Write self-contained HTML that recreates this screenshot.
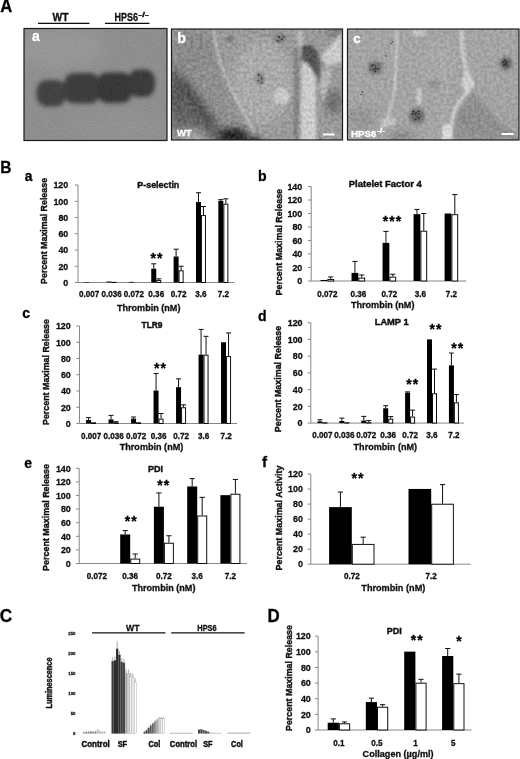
<!DOCTYPE html>
<html><head><meta charset="utf-8"><title>Figure</title>
<style>html,body{margin:0;padding:0;background:#fff}svg{display:block}</style>
</head><body>
<svg width="520" height="759" viewBox="0 0 520 759" font-family="Liberation Sans, sans-serif" font-weight="bold">
<defs>
<filter id="b1" x="-20%" y="-20%" width="140%" height="140%"><feGaussianBlur stdDeviation="1"/></filter>
<filter id="b2" x="-20%" y="-20%" width="140%" height="140%"><feGaussianBlur stdDeviation="2"/></filter>
<filter id="b3" x="-20%" y="-20%" width="140%" height="140%"><feGaussianBlur stdDeviation="3.2"/></filter>
<filter id="b5" x="-30%" y="-30%" width="160%" height="160%"><feGaussianBlur stdDeviation="5"/></filter>
<filter id="b8" x="-30%" y="-30%" width="160%" height="160%"><feGaussianBlur stdDeviation="8"/></filter>
<filter id="soft" x="-5%" y="-5%" width="110%" height="110%"><feGaussianBlur stdDeviation="0.45"/></filter>
<filter id="grain" x="0" y="0" width="100%" height="100%">
 <feTurbulence type="fractalNoise" baseFrequency="0.55" numOctaves="2" seed="3" result="n"/>
 <feColorMatrix in="n" type="matrix" values="0 0 0 0 0.5  0 0 0 0 0.5  0 0 0 0 0.5  0.9 0 0 0 -0.25"/>
</filter>
<filter id="b15" x="-20%" y="-20%" width="140%" height="140%"><feGaussianBlur stdDeviation="1.4"/></filter>
<filter id="b05" x="-20%" y="-20%" width="140%" height="140%"><feGaussianBlur stdDeviation="0.5"/></filter>
<filter id="texA" x="0" y="0" width="100%" height="100%" color-interpolation-filters="sRGB">
 <feTurbulence type="fractalNoise" baseFrequency="0.7" numOctaves="2" seed="5" result="n"/>
 <feColorMatrix in="n" type="matrix" values="1 0 0 0 0  1 0 0 0 0  1 0 0 0 0  0 0 0 0 1" result="g"/>
 <feComposite in="SourceGraphic" in2="g" operator="arithmetic" k1="0" k2="1" k3="0.10" k4="-0.05"/>
</filter>
<filter id="texB" x="0" y="0" width="100%" height="100%" color-interpolation-filters="sRGB">
 <feTurbulence type="fractalNoise" baseFrequency="0.32" numOctaves="3" seed="11" result="n"/>
 <feColorMatrix in="n" type="matrix" values="1 0 0 0 0  1 0 0 0 0  1 0 0 0 0  0 0 0 0 1" result="g"/>
 <feComposite in="SourceGraphic" in2="g" operator="arithmetic" k1="0" k2="1" k3="0.24" k4="-0.12" result="m"/>
 <feGaussianBlur in="m" stdDeviation="0.45"/>
</filter>
<filter id="texC" x="0" y="0" width="100%" height="100%" color-interpolation-filters="sRGB">
 <feTurbulence type="fractalNoise" baseFrequency="0.32" numOctaves="3" seed="23" result="n"/>
 <feColorMatrix in="n" type="matrix" values="1 0 0 0 0  1 0 0 0 0  1 0 0 0 0  0 0 0 0 1" result="g"/>
 <feComposite in="SourceGraphic" in2="g" operator="arithmetic" k1="0" k2="1" k3="0.20" k4="-0.10" result="m"/>
 <feGaussianBlur in="m" stdDeviation="0.45"/>
</filter>
<clipPath id="ca"><rect x="24" y="28.5" width="143" height="112"/></clipPath>
<clipPath id="cb"><rect x="171.5" y="29" width="171" height="111"/></clipPath>
<clipPath id="cc"><rect x="347.5" y="29" width="171.5" height="111"/></clipPath>
</defs>
<rect width="520" height="759" fill="#fff"/>
<g filter="url(#soft)">
<text x="0.30" y="12.10" font-size="18" text-anchor="start" fill="#000" stroke="#000" stroke-width="0.3" textLength="12.0" lengthAdjust="spacingAndGlyphs" >A</text>
<text x="0.30" y="173.20" font-size="17" text-anchor="start" fill="#000" stroke="#000" stroke-width="0.3" textLength="11.2" lengthAdjust="spacingAndGlyphs" >B</text>
<text x="-0.30" y="621.60" font-size="18.3" text-anchor="start" fill="#000" stroke="#000" stroke-width="0.3" textLength="12.4" lengthAdjust="spacingAndGlyphs" >C</text>
<text x="267.60" y="621.90" font-size="18.3" text-anchor="start" fill="#000" stroke="#000" stroke-width="0.3" textLength="12.2" lengthAdjust="spacingAndGlyphs" >D</text>
<text x="60.60" y="21.30" font-size="10.4" text-anchor="middle" fill="#111" stroke="#111" stroke-width="0.3" textLength="16.0" lengthAdjust="spacingAndGlyphs" >WT</text>
<path d="M38,23.3H89.5M105,23.3H149.5" stroke="#111" stroke-width="1.2"/>
<text x="114.50" y="21.30" font-size="10.4" text-anchor="start" fill="#111" stroke="#111" stroke-width="0.3" textLength="23.5" lengthAdjust="spacingAndGlyphs" >HPS6</text>
<text x="138.30" y="17.30" font-size="8" text-anchor="start" fill="#111" stroke="#111" stroke-width="0.3" textLength="10.5" lengthAdjust="spacingAndGlyphs" >-/-</text>
<g clip-path="url(#ca)"><g filter="url(#texA)">
<rect x="20" y="24" width="152" height="120" fill="#8e8e8e"/>
<ellipse cx="60" cy="48" rx="45" ry="20" fill="#979797" filter="url(#b8)"/>
<ellipse cx="120" cy="128" rx="50" ry="12" fill="#939393" filter="url(#b8)"/>
<g filter="url(#b2)">
<rect x="36.5" y="80" width="29.5" height="26.5" rx="10" ry="11" fill="#424242"/>
<rect x="64" y="73" width="36" height="30.5" rx="10" ry="11" fill="#3c3c3c"/>
<rect x="97" y="72.5" width="35" height="30.5" rx="10" ry="11" fill="#383838"/>
<rect x="128" y="69.5" width="27" height="27.5" rx="10" ry="11" fill="#3a3a3a"/>
</g>
</g></g>
<rect x="24" y="28.5" width="143" height="112" fill="none" stroke="#1c1c1c" stroke-width="1.2"/>
<text x="31.90" y="41.30" font-size="14" text-anchor="start" fill="#fff" stroke="#fff" stroke-width="0.3" >a</text>
<g clip-path="url(#cb)"><g filter="url(#texB)">
<rect x="168" y="25" width="178" height="119" fill="#9a9a9a"/>
<g filter="url(#b5)">
<path d="M172,30 L212,30 L226,80 L250,128 L236,140 L172,140 Z" fill="#8f8f8f"/>
<ellipse cx="192" cy="50" rx="22" ry="20" fill="#8a8a8a"/>
<path d="M172,74 L188,78 L214,116 L228,140 L172,140 Z" fill="#646464"/>
<ellipse cx="175" cy="92" rx="7" ry="26" fill="#565656"/>
<ellipse cx="262" cy="82" rx="30" ry="42" fill="#aaaaaa"/>
<ellipse cx="334" cy="102" rx="9" ry="12" fill="#6c6c6c"/>
<ellipse cx="336" cy="30" rx="8" ry="6" fill="#6e6e6e"/>
<ellipse cx="190" cy="136" rx="16" ry="7" fill="#a4a4a4"/>
</g>
<g filter="url(#b3)">
<path d="M180,82 C190,96 200,110 210,124" stroke="#4e4e4e" stroke-width="7" fill="none"/>
<ellipse cx="233" cy="136" rx="15" ry="8" fill="#262626"/>
<ellipse cx="250" cy="141" rx="12" ry="5" fill="#3c3c3c"/>
</g>
<g filter="url(#b15)">
<path d="M296,48 C297,80 297,110 296,142" stroke="#808080" stroke-width="4.5" fill="none"/>
<path d="M301.5,64 C304,60 312,58 315.5,62 L316.5,142 L300.5,142 Z" fill="#cbcbcb"/>
<path d="M296.5,30 L302,30 L304.5,60 L300,52 Z" fill="#bcbcbc"/>
<path d="M301,47 C307,42 316,45 318.5,55 C320.5,66 320,76 319,84 C315,72 309,64 302,60 Z" fill="#555555"/>
<path d="M321,56 L341,33 L343,62 L327,66 Z" fill="#cacaca"/>
<path d="M319,84 L327,66 L332,72 L323,104 Z" fill="#b6b6b6"/>
</g>
<g filter="url(#b1)">
<circle cx="281.8" cy="96.3" r="8" fill="#c6c6c6"/>
<circle cx="281.8" cy="96.3" r="7.2" fill="none" stroke="#d2d2d2" stroke-width="1"/>
<path d="M214,31 C215,50 222,70 232,90 C240,106 248,120 254,132" stroke="#bebebe" stroke-width="2.4" fill="none"/>
<ellipse cx="280" cy="38.5" rx="6" ry="5" fill="#7c7c7c"/>
<ellipse cx="260" cy="78.5" rx="4.5" ry="6.5" fill="#828282"/>
<ellipse cx="230" cy="39" rx="3" ry="3" fill="#747474"/>
</g>
<g filter="url(#b05)">
<circle cx="279" cy="37" r="0.9" fill="#2a2a2a"/>
<circle cx="282" cy="39.5" r="0.9" fill="#2a2a2a"/>
<circle cx="284" cy="36.5" r="0.8" fill="#2a2a2a"/>
<circle cx="277.5" cy="40.5" r="0.7" fill="#2a2a2a"/>
<circle cx="259" cy="75" r="0.9" fill="#2a2a2a"/>
<circle cx="261.5" cy="78" r="0.8" fill="#2a2a2a"/>
<circle cx="258" cy="80.5" r="0.7" fill="#2a2a2a"/>
<circle cx="262" cy="83" r="0.7" fill="#2a2a2a"/>
</g>
</g></g>
<rect x="171.5" y="29" width="171" height="111" fill="none" stroke="#1c1c1c" stroke-width="1.2"/>
<text x="177.20" y="42.70" font-size="14.2" text-anchor="start" fill="#fff" stroke="#fff" stroke-width="0.3" >b</text>
<text x="176.90" y="136.10" font-size="9.6" text-anchor="start" fill="#fff" stroke="#fff" stroke-width="0.3" textLength="14.7" lengthAdjust="spacingAndGlyphs" >WT</text>
<rect x="323" y="133.5" width="11.5" height="2" fill="#fff"/>
<g clip-path="url(#cc)"><g filter="url(#texC)">
<rect x="344" y="25" width="179" height="119" fill="#a4a4a4"/>
<g filter="url(#b5)">
<path d="M456,108 L472,88 L500,118 L519,134 L519,141 L452,141 Z" fill="#8f8f8f"/>
<ellipse cx="362" cy="118" rx="14" ry="12" fill="#949494"/>
<ellipse cx="402" cy="137" rx="12" ry="5" fill="#808080"/>
<ellipse cx="440" cy="60" rx="14" ry="20" fill="#a8a8a8"/>
</g>
<g filter="url(#b2)">
<ellipse cx="375.3" cy="67.8" rx="7" ry="6.5" fill="#6a6a6a"/>
<ellipse cx="416.8" cy="116" rx="7.5" ry="7.5" fill="#666666"/>
<ellipse cx="506" cy="63.5" rx="5.5" ry="6.5" fill="#565656"/>
<ellipse cx="434.3" cy="84.2" rx="4.5" ry="3" fill="#868686"/>
<ellipse cx="464.6" cy="118" rx="4" ry="4" fill="#838383"/>
</g>
<g filter="url(#b1)">
<path d="M461.5,30 C462,45 463,58 466,68 C469,76 472,80 470,86 C467,94 458,102 454,112 C451,120 451,130 450,141" stroke="#c8c8c8" stroke-width="4.4" fill="none"/>
<path d="M465,70 L475,84 L467,96 L461,84 Z" fill="#cecece"/>
<path d="M442,125 L451.5,124 L452,141 L442,141 Z" fill="#d6d6d6"/>
<path d="M473,85 C482,97 492,110 500,118 C506,124 512,128 519,133" stroke="#b4b4b4" stroke-width="1.6" fill="none"/>
<path d="M397,30 C397,50 396,70 395,85 C394,98 391,108 388,116 C386,121 384,124 381,127" stroke="#c4c4c4" stroke-width="2.8" fill="none"/>
<path d="M380,119 L396,118 L394,126 L382,128 Z" fill="#c2c2c2"/>
<path d="M416.5,88.5 L421.5,89 L421.5,104 L417,104 Z" fill="#c8c8c8"/>
<path d="M412,30 L426,30 L424,36 L415,36.5 Z" fill="#c2c2c2"/>
<path d="M445.6,71 C447,80 447.5,90 446,100 C444,110 442,118 440,125" stroke="#b2b2b2" stroke-width="1.4" fill="none"/>
</g>
<g filter="url(#b05)">
<circle cx="373.6" cy="69.3" r="0.9" fill="#333"/>
<circle cx="377.9" cy="69.2" r="0.7" fill="#333"/>
<circle cx="378.0" cy="68.8" r="0.6" fill="#333"/>
<circle cx="373.2" cy="68.1" r="0.6" fill="#333"/>
<circle cx="370.3" cy="69.7" r="0.6" fill="#333"/>
<circle cx="375.2" cy="71.6" r="1.0" fill="#333"/>
<circle cx="371.6" cy="66.0" r="1.0" fill="#333"/>
<circle cx="379.1" cy="68.9" r="0.7" fill="#333"/>
<circle cx="375.6" cy="68.9" r="0.7" fill="#333"/>
<circle cx="375.4" cy="65.5" r="0.8" fill="#333"/>
<circle cx="372.5" cy="65.1" r="0.8" fill="#333"/>
<circle cx="375.7" cy="68.0" r="0.7" fill="#333"/>
<circle cx="373.1" cy="64.4" r="0.7" fill="#333"/>
<circle cx="413.1" cy="114.0" r="0.7" fill="#333"/>
<circle cx="417.8" cy="111.3" r="0.7" fill="#333"/>
<circle cx="412.7" cy="114.1" r="1.0" fill="#333"/>
<circle cx="416.1" cy="112.9" r="1.0" fill="#333"/>
<circle cx="419.3" cy="118.5" r="0.9" fill="#333"/>
<circle cx="418.8" cy="119.3" r="0.6" fill="#333"/>
<circle cx="414.0" cy="111.6" r="0.8" fill="#333"/>
<circle cx="418.8" cy="113.7" r="0.9" fill="#333"/>
<circle cx="412.8" cy="113.5" r="0.8" fill="#333"/>
<circle cx="419.5" cy="111.2" r="0.8" fill="#333"/>
<circle cx="415.8" cy="114.8" r="0.9" fill="#333"/>
<circle cx="413.0" cy="111.4" r="1.0" fill="#333"/>
<circle cx="415.7" cy="119.5" r="0.9" fill="#333"/>
<circle cx="420.4" cy="116.6" r="0.6" fill="#333"/>
<circle cx="417.5" cy="116.9" r="0.9" fill="#333"/>
<circle cx="418.5" cy="118.1" r="0.7" fill="#333"/>
<circle cx="506.7" cy="62.2" r="0.8" fill="#333"/>
<circle cx="502.6" cy="61.9" r="1.0" fill="#333"/>
<circle cx="507.3" cy="61.5" r="0.8" fill="#333"/>
<circle cx="503.7" cy="65.8" r="1.0" fill="#333"/>
<circle cx="506.9" cy="64.3" r="0.7" fill="#333"/>
<circle cx="506.3" cy="65.6" r="0.8" fill="#333"/>
<circle cx="506.0" cy="63.2" r="0.8" fill="#333"/>
<circle cx="504.1" cy="65.1" r="1.0" fill="#333"/>
<circle cx="505.0" cy="60.5" r="0.9" fill="#333"/>
<circle cx="392.6" cy="41.8" r="0.8" fill="#444"/>
<circle cx="391" cy="43.5" r="0.8" fill="#444"/>
<circle cx="362.3" cy="92" r="0.8" fill="#444"/>
<circle cx="361" cy="94.5" r="0.8" fill="#444"/>
<circle cx="351.5" cy="114" r="0.8" fill="#444"/>
<circle cx="386" cy="56" r="0.8" fill="#444"/>
</g>
</g></g>
<rect x="347.5" y="29" width="171.5" height="111" fill="none" stroke="#1c1c1c" stroke-width="1.2"/>
<text x="353.20" y="43.20" font-size="13.4" text-anchor="start" fill="#fff" stroke="#fff" stroke-width="0.3" >c</text>
<text x="351.00" y="136.60" font-size="9.6" text-anchor="start" fill="#fff" stroke="#fff" stroke-width="0.3" textLength="25.5" lengthAdjust="spacingAndGlyphs" >HPS6</text>
<text x="376.80" y="132.80" font-size="7" text-anchor="start" fill="#fff" stroke="#fff" stroke-width="0.3" textLength="8.5" lengthAdjust="spacingAndGlyphs" >-/-</text>
<rect x="501.5" y="133" width="12" height="2" fill="#fff"/>
<text x="24.80" y="181.10" font-size="13.8" text-anchor="start" fill="#000" stroke="#000" stroke-width="0.3" >a</text>
<path d="M78.00,185.00V282.50H234.50" fill="none" stroke="#868686" stroke-width="1"/>
<path d="M74.80,282.50H78.00" stroke="#868686" stroke-width="1"/>
<text x="68.30" y="285.79" font-size="9.2" text-anchor="end" fill="#111" stroke="#111" stroke-width="0.3" textLength="5.0" lengthAdjust="spacingAndGlyphs" >0</text>
<path d="M74.80,266.25H78.00" stroke="#868686" stroke-width="1"/>
<text x="68.30" y="269.54" font-size="9.2" text-anchor="end" fill="#111" stroke="#111" stroke-width="0.3" textLength="9.9" lengthAdjust="spacingAndGlyphs" >20</text>
<path d="M74.80,250.00H78.00" stroke="#868686" stroke-width="1"/>
<text x="68.30" y="253.29" font-size="9.2" text-anchor="end" fill="#111" stroke="#111" stroke-width="0.3" textLength="9.9" lengthAdjust="spacingAndGlyphs" >40</text>
<path d="M74.80,233.75H78.00" stroke="#868686" stroke-width="1"/>
<text x="68.30" y="237.04" font-size="9.2" text-anchor="end" fill="#111" stroke="#111" stroke-width="0.3" textLength="9.9" lengthAdjust="spacingAndGlyphs" >60</text>
<path d="M74.80,217.50H78.00" stroke="#868686" stroke-width="1"/>
<text x="68.30" y="220.79" font-size="9.2" text-anchor="end" fill="#111" stroke="#111" stroke-width="0.3" textLength="9.9" lengthAdjust="spacingAndGlyphs" >80</text>
<path d="M74.80,201.25H78.00" stroke="#868686" stroke-width="1"/>
<text x="68.30" y="204.54" font-size="9.2" text-anchor="end" fill="#111" stroke="#111" stroke-width="0.3" textLength="14.9" lengthAdjust="spacingAndGlyphs" >100</text>
<path d="M74.80,185.00H78.00" stroke="#868686" stroke-width="1"/>
<text x="68.30" y="188.29" font-size="9.2" text-anchor="end" fill="#111" stroke="#111" stroke-width="0.3" textLength="14.9" lengthAdjust="spacingAndGlyphs" >120</text>
<rect x="84.18" y="282.01" width="5.00" height="0.49" fill="#000"/>
<rect x="89.68" y="282.51" width="4.00" height="-0.01" fill="#fff" stroke="#111" stroke-width="1"/>
<rect x="106.54" y="281.52" width="5.00" height="0.97" fill="#000"/>
<rect x="112.04" y="282.35" width="4.00" height="0.15" fill="#fff" stroke="#111" stroke-width="1"/>
<rect x="128.90" y="281.85" width="5.00" height="0.65" fill="#000"/>
<rect x="134.40" y="282.51" width="4.00" height="-0.01" fill="#fff" stroke="#111" stroke-width="1"/>
<rect x="151.26" y="268.69" width="5.00" height="13.81" fill="#000"/>
<path d="M153.76,268.69V263.81M151.26,263.81H156.26" stroke="#111" stroke-width="1" fill="none"/>
<rect x="156.76" y="280.56" width="4.00" height="1.94" fill="#fff" stroke="#111" stroke-width="1"/>
<path d="M158.76,280.06V278.84M156.26,278.84H161.26" stroke="#111" stroke-width="1" fill="none"/>
<rect x="173.62" y="256.50" width="5.00" height="26.00" fill="#000"/>
<path d="M176.12,256.50V249.19M173.62,249.19H178.62" stroke="#111" stroke-width="1" fill="none"/>
<rect x="179.12" y="270.81" width="4.00" height="11.69" fill="#fff" stroke="#111" stroke-width="1"/>
<path d="M181.12,270.31V266.25M178.62,266.25H183.62" stroke="#111" stroke-width="1" fill="none"/>
<rect x="195.98" y="202.06" width="5.00" height="80.44" fill="#000"/>
<path d="M198.48,202.06V192.72M195.98,192.72H200.98" stroke="#111" stroke-width="1" fill="none"/>
<rect x="201.48" y="215.56" width="4.00" height="66.94" fill="#fff" stroke="#111" stroke-width="1"/>
<path d="M203.48,215.06V206.53M200.98,206.53H205.98" stroke="#111" stroke-width="1" fill="none"/>
<rect x="218.34" y="200.84" width="5.00" height="81.66" fill="#000"/>
<path d="M220.84,200.84V199.62M218.34,199.62H223.34" stroke="#111" stroke-width="1" fill="none"/>
<rect x="223.84" y="204.19" width="4.00" height="78.31" fill="#fff" stroke="#111" stroke-width="1"/>
<path d="M225.84,203.69V198.81M223.34,198.81H228.34" stroke="#111" stroke-width="1" fill="none"/>
<text x="89.18" y="297.21" font-size="8.4" text-anchor="middle" fill="#111" stroke="#111" stroke-width="0.3" textLength="20.2" lengthAdjust="spacingAndGlyphs" >0.007</text>
<text x="111.54" y="297.21" font-size="8.4" text-anchor="middle" fill="#111" stroke="#111" stroke-width="0.3" textLength="20.2" lengthAdjust="spacingAndGlyphs" >0.036</text>
<text x="133.90" y="297.21" font-size="8.4" text-anchor="middle" fill="#111" stroke="#111" stroke-width="0.3" textLength="20.2" lengthAdjust="spacingAndGlyphs" >0.072</text>
<text x="156.26" y="297.21" font-size="8.4" text-anchor="middle" fill="#111" stroke="#111" stroke-width="0.3" textLength="15.8" lengthAdjust="spacingAndGlyphs" >0.36</text>
<text x="178.62" y="297.21" font-size="8.4" text-anchor="middle" fill="#111" stroke="#111" stroke-width="0.3" textLength="15.8" lengthAdjust="spacingAndGlyphs" >0.72</text>
<text x="200.98" y="297.21" font-size="8.4" text-anchor="middle" fill="#111" stroke="#111" stroke-width="0.3" textLength="11.3" lengthAdjust="spacingAndGlyphs" >3.6</text>
<text x="223.34" y="297.21" font-size="8.4" text-anchor="middle" fill="#111" stroke="#111" stroke-width="0.3" textLength="11.3" lengthAdjust="spacingAndGlyphs" >7.2</text>
<text transform="translate(47.39,230.90) rotate(-90)" font-size="8.9" text-anchor="middle" fill="#111" stroke="#111" stroke-width="0.4" textLength="106.0" lengthAdjust="spacingAndGlyphs">Percent Maximal Release</text>
<text x="158.30" y="187.70" font-size="9.3" text-anchor="middle" fill="#111" stroke="#111" stroke-width="0.42" textLength="42.0" lengthAdjust="spacingAndGlyphs" >P-selectin</text>
<text x="148.70" y="310.50" font-size="9.2" text-anchor="middle" fill="#111" stroke="#111" stroke-width="0.3" textLength="63.5" lengthAdjust="spacingAndGlyphs" >Thrombin (nM)</text>
<text x="157.00" y="263.28" font-size="14" text-anchor="middle" fill="#000" stroke="#000" stroke-width="0.3" letter-spacing="1.1">**</text>
<text x="257.90" y="180.70" font-size="15.5" text-anchor="start" fill="#000" stroke="#000" stroke-width="0.3" textLength="8.6" lengthAdjust="spacingAndGlyphs" >b</text>
<path d="M311.20,186.50V281.00H466.30" fill="none" stroke="#868686" stroke-width="1"/>
<path d="M308.00,281.00H311.20" stroke="#868686" stroke-width="1"/>
<text x="302.30" y="284.29" font-size="9.2" text-anchor="end" fill="#111" stroke="#111" stroke-width="0.3" textLength="5.0" lengthAdjust="spacingAndGlyphs" >0</text>
<path d="M308.00,267.50H311.20" stroke="#868686" stroke-width="1"/>
<text x="302.30" y="270.79" font-size="9.2" text-anchor="end" fill="#111" stroke="#111" stroke-width="0.3" textLength="9.9" lengthAdjust="spacingAndGlyphs" >20</text>
<path d="M308.00,254.00H311.20" stroke="#868686" stroke-width="1"/>
<text x="302.30" y="257.29" font-size="9.2" text-anchor="end" fill="#111" stroke="#111" stroke-width="0.3" textLength="9.9" lengthAdjust="spacingAndGlyphs" >40</text>
<path d="M308.00,240.50H311.20" stroke="#868686" stroke-width="1"/>
<text x="302.30" y="243.79" font-size="9.2" text-anchor="end" fill="#111" stroke="#111" stroke-width="0.3" textLength="9.9" lengthAdjust="spacingAndGlyphs" >60</text>
<path d="M308.00,227.00H311.20" stroke="#868686" stroke-width="1"/>
<text x="302.30" y="230.29" font-size="9.2" text-anchor="end" fill="#111" stroke="#111" stroke-width="0.3" textLength="9.9" lengthAdjust="spacingAndGlyphs" >80</text>
<path d="M308.00,213.50H311.20" stroke="#868686" stroke-width="1"/>
<text x="302.30" y="216.79" font-size="9.2" text-anchor="end" fill="#111" stroke="#111" stroke-width="0.3" textLength="14.9" lengthAdjust="spacingAndGlyphs" >100</text>
<path d="M308.00,200.00H311.20" stroke="#868686" stroke-width="1"/>
<text x="302.30" y="203.29" font-size="9.2" text-anchor="end" fill="#111" stroke="#111" stroke-width="0.3" textLength="14.9" lengthAdjust="spacingAndGlyphs" >120</text>
<path d="M308.00,186.50H311.20" stroke="#868686" stroke-width="1"/>
<text x="302.30" y="189.79" font-size="9.2" text-anchor="end" fill="#111" stroke="#111" stroke-width="0.3" textLength="14.9" lengthAdjust="spacingAndGlyphs" >140</text>
<rect x="320.51" y="279.99" width="6.80" height="1.01" fill="#000"/>
<rect x="327.81" y="279.48" width="5.80" height="1.53" fill="#fff" stroke="#111" stroke-width="1"/>
<path d="M330.71,278.98V276.95M328.11,276.95H333.31" stroke="#111" stroke-width="1" fill="none"/>
<rect x="351.53" y="272.90" width="6.80" height="8.10" fill="#000"/>
<path d="M354.93,272.90V261.43M352.33,261.43H357.53" stroke="#111" stroke-width="1" fill="none"/>
<rect x="358.83" y="278.12" width="5.80" height="2.88" fill="#fff" stroke="#111" stroke-width="1"/>
<path d="M361.73,277.62V274.93M359.13,274.93H364.33" stroke="#111" stroke-width="1" fill="none"/>
<rect x="382.55" y="242.86" width="6.80" height="38.14" fill="#000"/>
<path d="M385.95,242.86V231.39M383.35,231.39H388.55" stroke="#111" stroke-width="1" fill="none"/>
<rect x="389.85" y="277.11" width="5.80" height="3.89" fill="#fff" stroke="#111" stroke-width="1"/>
<path d="M392.75,276.61V274.25M390.15,274.25H395.35" stroke="#111" stroke-width="1" fill="none"/>
<rect x="413.57" y="214.18" width="6.80" height="66.83" fill="#000"/>
<path d="M416.97,214.18V209.45M414.37,209.45H419.57" stroke="#111" stroke-width="1" fill="none"/>
<rect x="420.87" y="231.21" width="5.80" height="49.79" fill="#fff" stroke="#111" stroke-width="1"/>
<path d="M423.77,230.71V213.50M421.17,213.50H426.37" stroke="#111" stroke-width="1" fill="none"/>
<rect x="444.59" y="213.50" width="6.80" height="67.50" fill="#000"/>
<rect x="451.89" y="214.68" width="5.80" height="66.33" fill="#fff" stroke="#111" stroke-width="1"/>
<path d="M454.79,214.18V194.60M452.19,194.60H457.39" stroke="#111" stroke-width="1" fill="none"/>
<text x="327.31" y="296.51" font-size="8.4" text-anchor="middle" fill="#111" stroke="#111" stroke-width="0.3" textLength="20.2" lengthAdjust="spacingAndGlyphs" >0.072</text>
<text x="358.33" y="296.51" font-size="8.4" text-anchor="middle" fill="#111" stroke="#111" stroke-width="0.3" textLength="15.8" lengthAdjust="spacingAndGlyphs" >0.36</text>
<text x="389.35" y="296.51" font-size="8.4" text-anchor="middle" fill="#111" stroke="#111" stroke-width="0.3" textLength="15.8" lengthAdjust="spacingAndGlyphs" >0.72</text>
<text x="420.37" y="296.51" font-size="8.4" text-anchor="middle" fill="#111" stroke="#111" stroke-width="0.3" textLength="11.3" lengthAdjust="spacingAndGlyphs" >3.6</text>
<text x="451.39" y="296.51" font-size="8.4" text-anchor="middle" fill="#111" stroke="#111" stroke-width="0.3" textLength="11.3" lengthAdjust="spacingAndGlyphs" >7.2</text>
<text transform="translate(282.19,242.20) rotate(-90)" font-size="8.9" text-anchor="middle" fill="#111" stroke="#111" stroke-width="0.4" textLength="106.5" lengthAdjust="spacingAndGlyphs">Percent Maximal Release</text>
<text x="385.30" y="186.50" font-size="9.3" text-anchor="middle" fill="#111" stroke="#111" stroke-width="0.42" textLength="73.0" lengthAdjust="spacingAndGlyphs" >Platelet Factor 4</text>
<text x="382.70" y="307.90" font-size="9.2" text-anchor="middle" fill="#111" stroke="#111" stroke-width="0.3" textLength="63.5" lengthAdjust="spacingAndGlyphs" >Thrombin (nM)</text>
<text x="392.50" y="226.48" font-size="14" text-anchor="middle" fill="#000" stroke="#000" stroke-width="0.3" letter-spacing="1.1">***</text>
<text x="22.20" y="318.10" font-size="14" text-anchor="start" fill="#000" stroke="#000" stroke-width="0.3" >c</text>
<path d="M79.50,326.00V423.50H237.00" fill="none" stroke="#868686" stroke-width="1"/>
<path d="M76.30,423.50H79.50" stroke="#868686" stroke-width="1"/>
<text x="70.80" y="426.79" font-size="9.2" text-anchor="end" fill="#111" stroke="#111" stroke-width="0.3" textLength="5.0" lengthAdjust="spacingAndGlyphs" >0</text>
<path d="M76.30,407.25H79.50" stroke="#868686" stroke-width="1"/>
<text x="70.80" y="410.54" font-size="9.2" text-anchor="end" fill="#111" stroke="#111" stroke-width="0.3" textLength="9.9" lengthAdjust="spacingAndGlyphs" >20</text>
<path d="M76.30,391.00H79.50" stroke="#868686" stroke-width="1"/>
<text x="70.80" y="394.29" font-size="9.2" text-anchor="end" fill="#111" stroke="#111" stroke-width="0.3" textLength="9.9" lengthAdjust="spacingAndGlyphs" >40</text>
<path d="M76.30,374.75H79.50" stroke="#868686" stroke-width="1"/>
<text x="70.80" y="378.04" font-size="9.2" text-anchor="end" fill="#111" stroke="#111" stroke-width="0.3" textLength="9.9" lengthAdjust="spacingAndGlyphs" >60</text>
<path d="M76.30,358.50H79.50" stroke="#868686" stroke-width="1"/>
<text x="70.80" y="361.79" font-size="9.2" text-anchor="end" fill="#111" stroke="#111" stroke-width="0.3" textLength="9.9" lengthAdjust="spacingAndGlyphs" >80</text>
<path d="M76.30,342.25H79.50" stroke="#868686" stroke-width="1"/>
<text x="70.80" y="345.54" font-size="9.2" text-anchor="end" fill="#111" stroke="#111" stroke-width="0.3" textLength="14.9" lengthAdjust="spacingAndGlyphs" >100</text>
<path d="M76.30,326.00H79.50" stroke="#868686" stroke-width="1"/>
<text x="70.80" y="329.29" font-size="9.2" text-anchor="end" fill="#111" stroke="#111" stroke-width="0.3" textLength="14.9" lengthAdjust="spacingAndGlyphs" >120</text>
<rect x="86.05" y="420.01" width="5.00" height="3.49" fill="#000"/>
<path d="M88.55,420.01V417.65M86.05,417.65H91.05" stroke="#111" stroke-width="1" fill="none"/>
<rect x="91.55" y="422.78" width="4.00" height="0.72" fill="#fff" stroke="#111" stroke-width="1"/>
<rect x="108.55" y="419.44" width="5.00" height="4.06" fill="#000"/>
<path d="M111.05,419.44V415.38M108.55,415.38H113.55" stroke="#111" stroke-width="1" fill="none"/>
<rect x="114.05" y="422.78" width="4.00" height="0.72" fill="#fff" stroke="#111" stroke-width="1"/>
<path d="M116.05,422.28V421.71M113.55,421.71H118.55" stroke="#111" stroke-width="1" fill="none"/>
<rect x="131.05" y="418.62" width="5.00" height="4.88" fill="#000"/>
<path d="M133.55,418.62V417.00M131.05,417.00H136.05" stroke="#111" stroke-width="1" fill="none"/>
<rect x="136.55" y="422.78" width="4.00" height="0.72" fill="#fff" stroke="#111" stroke-width="1"/>
<rect x="153.55" y="390.59" width="5.00" height="32.91" fill="#000"/>
<path d="M156.05,390.59V373.53M153.55,373.53H158.55" stroke="#111" stroke-width="1" fill="none"/>
<rect x="159.05" y="419.12" width="4.00" height="4.38" fill="#fff" stroke="#111" stroke-width="1"/>
<path d="M161.05,418.62V413.51M158.55,413.51H163.55" stroke="#111" stroke-width="1" fill="none"/>
<rect x="176.05" y="387.18" width="5.00" height="36.32" fill="#000"/>
<path d="M178.55,387.18V378.81M176.05,378.81H181.05" stroke="#111" stroke-width="1" fill="none"/>
<rect x="181.55" y="407.75" width="4.00" height="15.75" fill="#fff" stroke="#111" stroke-width="1"/>
<path d="M183.55,407.25V404.81M181.05,404.81H186.05" stroke="#111" stroke-width="1" fill="none"/>
<rect x="198.55" y="354.68" width="5.00" height="68.82" fill="#000"/>
<path d="M201.05,354.68V329.41M198.55,329.41H203.55" stroke="#111" stroke-width="1" fill="none"/>
<rect x="204.05" y="355.18" width="4.00" height="68.32" fill="#fff" stroke="#111" stroke-width="1"/>
<path d="M206.05,354.68V336.32M203.55,336.32H208.55" stroke="#111" stroke-width="1" fill="none"/>
<rect x="221.05" y="342.25" width="5.00" height="81.25" fill="#000"/>
<rect x="226.55" y="356.56" width="4.00" height="66.94" fill="#fff" stroke="#111" stroke-width="1"/>
<path d="M228.55,356.06V332.91M226.05,332.91H231.05" stroke="#111" stroke-width="1" fill="none"/>
<text x="91.05" y="438.61" font-size="8.4" text-anchor="middle" fill="#111" stroke="#111" stroke-width="0.3" textLength="20.2" lengthAdjust="spacingAndGlyphs" >0.007</text>
<text x="113.55" y="438.61" font-size="8.4" text-anchor="middle" fill="#111" stroke="#111" stroke-width="0.3" textLength="20.2" lengthAdjust="spacingAndGlyphs" >0.036</text>
<text x="136.05" y="438.61" font-size="8.4" text-anchor="middle" fill="#111" stroke="#111" stroke-width="0.3" textLength="20.2" lengthAdjust="spacingAndGlyphs" >0.072</text>
<text x="158.55" y="438.61" font-size="8.4" text-anchor="middle" fill="#111" stroke="#111" stroke-width="0.3" textLength="15.8" lengthAdjust="spacingAndGlyphs" >0.36</text>
<text x="181.05" y="438.61" font-size="8.4" text-anchor="middle" fill="#111" stroke="#111" stroke-width="0.3" textLength="15.8" lengthAdjust="spacingAndGlyphs" >0.72</text>
<text x="203.55" y="438.61" font-size="8.4" text-anchor="middle" fill="#111" stroke="#111" stroke-width="0.3" textLength="11.3" lengthAdjust="spacingAndGlyphs" >3.6</text>
<text x="226.05" y="438.61" font-size="8.4" text-anchor="middle" fill="#111" stroke="#111" stroke-width="0.3" textLength="11.3" lengthAdjust="spacingAndGlyphs" >7.2</text>
<text transform="translate(48.99,372.00) rotate(-90)" font-size="8.9" text-anchor="middle" fill="#111" stroke="#111" stroke-width="0.4" textLength="106.0" lengthAdjust="spacingAndGlyphs">Percent Maximal Release</text>
<text x="152.00" y="328.30" font-size="9.3" text-anchor="middle" fill="#111" stroke="#111" stroke-width="0.42" textLength="21.0" lengthAdjust="spacingAndGlyphs" >TLR9</text>
<text x="151.50" y="450.40" font-size="9.2" text-anchor="middle" fill="#111" stroke="#111" stroke-width="0.3" textLength="63.5" lengthAdjust="spacingAndGlyphs" >Thrombin (nM)</text>
<text x="160.50" y="373.28" font-size="14" text-anchor="middle" fill="#000" stroke="#000" stroke-width="0.3" letter-spacing="1.1">**</text>
<text x="257.90" y="321.40" font-size="15.5" text-anchor="start" fill="#000" stroke="#000" stroke-width="0.3" textLength="8.6" lengthAdjust="spacingAndGlyphs" >d</text>
<path d="M310.80,322.66V423.10H464.20" fill="none" stroke="#868686" stroke-width="1"/>
<path d="M307.60,423.10H310.80" stroke="#868686" stroke-width="1"/>
<text x="302.60" y="426.39" font-size="9.2" text-anchor="end" fill="#111" stroke="#111" stroke-width="0.3" textLength="5.0" lengthAdjust="spacingAndGlyphs" >0</text>
<path d="M307.60,406.36H310.80" stroke="#868686" stroke-width="1"/>
<text x="302.60" y="409.65" font-size="9.2" text-anchor="end" fill="#111" stroke="#111" stroke-width="0.3" textLength="9.9" lengthAdjust="spacingAndGlyphs" >20</text>
<path d="M307.60,389.62H310.80" stroke="#868686" stroke-width="1"/>
<text x="302.60" y="392.91" font-size="9.2" text-anchor="end" fill="#111" stroke="#111" stroke-width="0.3" textLength="9.9" lengthAdjust="spacingAndGlyphs" >40</text>
<path d="M307.60,372.88H310.80" stroke="#868686" stroke-width="1"/>
<text x="302.60" y="376.17" font-size="9.2" text-anchor="end" fill="#111" stroke="#111" stroke-width="0.3" textLength="9.9" lengthAdjust="spacingAndGlyphs" >60</text>
<path d="M307.60,356.14H310.80" stroke="#868686" stroke-width="1"/>
<text x="302.60" y="359.43" font-size="9.2" text-anchor="end" fill="#111" stroke="#111" stroke-width="0.3" textLength="9.9" lengthAdjust="spacingAndGlyphs" >80</text>
<path d="M307.60,339.40H310.80" stroke="#868686" stroke-width="1"/>
<text x="302.60" y="342.69" font-size="9.2" text-anchor="end" fill="#111" stroke="#111" stroke-width="0.3" textLength="14.9" lengthAdjust="spacingAndGlyphs" >100</text>
<path d="M307.60,322.66H310.80" stroke="#868686" stroke-width="1"/>
<text x="302.60" y="325.95" font-size="9.2" text-anchor="end" fill="#111" stroke="#111" stroke-width="0.3" textLength="14.9" lengthAdjust="spacingAndGlyphs" >120</text>
<rect x="317.45" y="421.43" width="5.00" height="1.67" fill="#000"/>
<path d="M319.95,421.43V419.75M317.45,419.75H322.45" stroke="#111" stroke-width="1" fill="none"/>
<rect x="322.95" y="422.76" width="4.00" height="0.34" fill="#fff" stroke="#111" stroke-width="1"/>
<rect x="339.37" y="421.01" width="5.00" height="2.09" fill="#000"/>
<path d="M341.87,421.01V418.08M339.37,418.08H344.37" stroke="#111" stroke-width="1" fill="none"/>
<rect x="344.87" y="422.76" width="4.00" height="0.34" fill="#fff" stroke="#111" stroke-width="1"/>
<rect x="361.27" y="420.59" width="5.00" height="2.51" fill="#000"/>
<path d="M363.77,420.59V416.40M361.27,416.40H366.27" stroke="#111" stroke-width="1" fill="none"/>
<rect x="366.77" y="422.76" width="4.00" height="0.34" fill="#fff" stroke="#111" stroke-width="1"/>
<path d="M368.77,422.26V420.59M366.27,420.59H371.27" stroke="#111" stroke-width="1" fill="none"/>
<rect x="383.19" y="408.29" width="5.00" height="14.81" fill="#000"/>
<path d="M385.69,408.29V405.69M383.19,405.69H388.19" stroke="#111" stroke-width="1" fill="none"/>
<rect x="388.69" y="419.16" width="4.00" height="3.94" fill="#fff" stroke="#111" stroke-width="1"/>
<path d="M390.69,418.66V416.57M388.19,416.57H393.19" stroke="#111" stroke-width="1" fill="none"/>
<rect x="405.09" y="392.72" width="5.00" height="30.38" fill="#000"/>
<path d="M407.59,392.72V391.88M405.09,391.88H410.09" stroke="#111" stroke-width="1" fill="none"/>
<rect x="410.59" y="417.07" width="4.00" height="6.03" fill="#fff" stroke="#111" stroke-width="1"/>
<path d="M412.59,416.57V410.13M410.09,410.13H415.09" stroke="#111" stroke-width="1" fill="none"/>
<rect x="427.00" y="339.40" width="5.00" height="83.70" fill="#000"/>
<rect x="432.50" y="393.72" width="4.00" height="29.38" fill="#fff" stroke="#111" stroke-width="1"/>
<path d="M434.50,393.22V369.11M432.00,369.11H437.00" stroke="#111" stroke-width="1" fill="none"/>
<rect x="448.92" y="365.35" width="5.00" height="57.75" fill="#000"/>
<path d="M451.42,365.35V353.04M448.92,353.04H453.92" stroke="#111" stroke-width="1" fill="none"/>
<rect x="454.42" y="402.84" width="4.00" height="20.26" fill="#fff" stroke="#111" stroke-width="1"/>
<path d="M456.42,402.34V394.56M453.92,394.56H458.92" stroke="#111" stroke-width="1" fill="none"/>
<text x="322.45" y="437.81" font-size="8.4" text-anchor="middle" fill="#111" stroke="#111" stroke-width="0.3" textLength="20.2" lengthAdjust="spacingAndGlyphs" >0.007</text>
<text x="344.37" y="437.81" font-size="8.4" text-anchor="middle" fill="#111" stroke="#111" stroke-width="0.3" textLength="20.2" lengthAdjust="spacingAndGlyphs" >0.036</text>
<text x="366.27" y="437.81" font-size="8.4" text-anchor="middle" fill="#111" stroke="#111" stroke-width="0.3" textLength="20.2" lengthAdjust="spacingAndGlyphs" >0.072</text>
<text x="388.19" y="437.81" font-size="8.4" text-anchor="middle" fill="#111" stroke="#111" stroke-width="0.3" textLength="15.8" lengthAdjust="spacingAndGlyphs" >0.36</text>
<text x="410.09" y="437.81" font-size="8.4" text-anchor="middle" fill="#111" stroke="#111" stroke-width="0.3" textLength="15.8" lengthAdjust="spacingAndGlyphs" >0.72</text>
<text x="432.00" y="437.81" font-size="8.4" text-anchor="middle" fill="#111" stroke="#111" stroke-width="0.3" textLength="11.3" lengthAdjust="spacingAndGlyphs" >3.6</text>
<text x="453.92" y="437.81" font-size="8.4" text-anchor="middle" fill="#111" stroke="#111" stroke-width="0.3" textLength="11.3" lengthAdjust="spacingAndGlyphs" >7.2</text>
<text transform="translate(281.49,379.00) rotate(-90)" font-size="8.9" text-anchor="middle" fill="#111" stroke="#111" stroke-width="0.4" textLength="106.5" lengthAdjust="spacingAndGlyphs">Percent Maximal Release</text>
<text x="391.70" y="325.20" font-size="9.3" text-anchor="middle" fill="#111" stroke="#111" stroke-width="0.42" textLength="34.0" lengthAdjust="spacingAndGlyphs" >LAMP 1</text>
<text x="385.30" y="450.10" font-size="9.2" text-anchor="middle" fill="#111" stroke="#111" stroke-width="0.3" textLength="63.5" lengthAdjust="spacingAndGlyphs" >Thrombin (nM)</text>
<text x="412.80" y="388.88" font-size="14" text-anchor="middle" fill="#000" stroke="#000" stroke-width="0.3" letter-spacing="1.1">**</text>
<text x="436.10" y="333.78" font-size="14" text-anchor="middle" fill="#000" stroke="#000" stroke-width="0.3" letter-spacing="1.1">**</text>
<text x="457.70" y="352.58" font-size="14" text-anchor="middle" fill="#000" stroke="#000" stroke-width="0.3" letter-spacing="1.1">**</text>
<text x="24.30" y="467.70" font-size="14" text-anchor="start" fill="#000" stroke="#000" stroke-width="0.3" >e</text>
<path d="M79.20,468.30V563.50H246.80" fill="none" stroke="#868686" stroke-width="1"/>
<path d="M76.00,563.50H79.20" stroke="#868686" stroke-width="1"/>
<text x="70.80" y="566.79" font-size="9.2" text-anchor="end" fill="#111" stroke="#111" stroke-width="0.3" textLength="5.0" lengthAdjust="spacingAndGlyphs" >0</text>
<path d="M76.00,549.90H79.20" stroke="#868686" stroke-width="1"/>
<text x="70.80" y="553.19" font-size="9.2" text-anchor="end" fill="#111" stroke="#111" stroke-width="0.3" textLength="9.9" lengthAdjust="spacingAndGlyphs" >20</text>
<path d="M76.00,536.30H79.20" stroke="#868686" stroke-width="1"/>
<text x="70.80" y="539.59" font-size="9.2" text-anchor="end" fill="#111" stroke="#111" stroke-width="0.3" textLength="9.9" lengthAdjust="spacingAndGlyphs" >40</text>
<path d="M76.00,522.70H79.20" stroke="#868686" stroke-width="1"/>
<text x="70.80" y="525.99" font-size="9.2" text-anchor="end" fill="#111" stroke="#111" stroke-width="0.3" textLength="9.9" lengthAdjust="spacingAndGlyphs" >60</text>
<path d="M76.00,509.10H79.20" stroke="#868686" stroke-width="1"/>
<text x="70.80" y="512.39" font-size="9.2" text-anchor="end" fill="#111" stroke="#111" stroke-width="0.3" textLength="9.9" lengthAdjust="spacingAndGlyphs" >80</text>
<path d="M76.00,495.50H79.20" stroke="#868686" stroke-width="1"/>
<text x="70.80" y="498.79" font-size="9.2" text-anchor="end" fill="#111" stroke="#111" stroke-width="0.3" textLength="14.9" lengthAdjust="spacingAndGlyphs" >100</text>
<path d="M76.00,481.90H79.20" stroke="#868686" stroke-width="1"/>
<text x="70.80" y="485.19" font-size="9.2" text-anchor="end" fill="#111" stroke="#111" stroke-width="0.3" textLength="14.9" lengthAdjust="spacingAndGlyphs" >120</text>
<path d="M76.00,468.30H79.20" stroke="#868686" stroke-width="1"/>
<text x="70.80" y="471.59" font-size="9.2" text-anchor="end" fill="#111" stroke="#111" stroke-width="0.3" textLength="14.9" lengthAdjust="spacingAndGlyphs" >140</text>
<rect x="120.20" y="534.46" width="10.00" height="29.04" fill="#000"/>
<path d="M125.20,534.46V530.59M122.60,530.59H127.80" stroke="#111" stroke-width="1" fill="none"/>
<rect x="130.70" y="559.10" width="9.00" height="4.40" fill="#fff" stroke="#111" stroke-width="1"/>
<path d="M135.20,558.60V553.98M132.60,553.98H137.80" stroke="#111" stroke-width="1" fill="none"/>
<rect x="153.90" y="506.72" width="10.00" height="56.78" fill="#000"/>
<path d="M158.90,506.72V492.92M156.30,492.92H161.50" stroke="#111" stroke-width="1" fill="none"/>
<rect x="164.40" y="543.26" width="9.00" height="20.24" fill="#fff" stroke="#111" stroke-width="1"/>
<path d="M168.90,542.76V535.76M166.30,535.76H171.50" stroke="#111" stroke-width="1" fill="none"/>
<rect x="187.20" y="486.46" width="10.00" height="77.04" fill="#000"/>
<path d="M192.20,486.46V478.64M189.60,478.64H194.80" stroke="#111" stroke-width="1" fill="none"/>
<rect x="197.70" y="515.99" width="9.00" height="47.51" fill="#fff" stroke="#111" stroke-width="1"/>
<path d="M202.20,515.49V497.34M199.60,497.34H204.80" stroke="#111" stroke-width="1" fill="none"/>
<rect x="220.40" y="495.16" width="10.00" height="68.34" fill="#000"/>
<rect x="230.90" y="494.23" width="9.00" height="69.27" fill="#fff" stroke="#111" stroke-width="1"/>
<path d="M235.40,493.73V479.45M232.80,479.45H238.00" stroke="#111" stroke-width="1" fill="none"/>
<text x="96.80" y="579.21" font-size="8.4" text-anchor="middle" fill="#111" stroke="#111" stroke-width="0.3" textLength="20.2" lengthAdjust="spacingAndGlyphs" >0.072</text>
<text x="130.20" y="579.21" font-size="8.4" text-anchor="middle" fill="#111" stroke="#111" stroke-width="0.3" textLength="15.8" lengthAdjust="spacingAndGlyphs" >0.36</text>
<text x="163.90" y="579.21" font-size="8.4" text-anchor="middle" fill="#111" stroke="#111" stroke-width="0.3" textLength="15.8" lengthAdjust="spacingAndGlyphs" >0.72</text>
<text x="197.20" y="579.21" font-size="8.4" text-anchor="middle" fill="#111" stroke="#111" stroke-width="0.3" textLength="11.3" lengthAdjust="spacingAndGlyphs" >3.6</text>
<text x="230.40" y="579.21" font-size="8.4" text-anchor="middle" fill="#111" stroke="#111" stroke-width="0.3" textLength="11.3" lengthAdjust="spacingAndGlyphs" >7.2</text>
<text transform="translate(49.39,517.50) rotate(-90)" font-size="8.9" text-anchor="middle" fill="#111" stroke="#111" stroke-width="0.4" textLength="107.0" lengthAdjust="spacingAndGlyphs">Percent Maximal Release</text>
<text x="155.40" y="472.00" font-size="9.6" text-anchor="middle" fill="#111" stroke="#111" stroke-width="0.45" textLength="15.0" lengthAdjust="spacingAndGlyphs" >PDI</text>
<text x="163.70" y="591.30" font-size="9.2" text-anchor="middle" fill="#111" stroke="#111" stroke-width="0.3" textLength="63.5" lengthAdjust="spacingAndGlyphs" >Thrombin (nM)</text>
<text x="131.30" y="525.58" font-size="14" text-anchor="middle" fill="#000" stroke="#000" stroke-width="0.3" letter-spacing="1.1">**</text>
<text x="163.70" y="489.78" font-size="14" text-anchor="middle" fill="#000" stroke="#000" stroke-width="0.3" letter-spacing="1.1">**</text>
<text x="261.90" y="466.90" font-size="15.3" text-anchor="start" fill="#000" stroke="#000" stroke-width="0.3" >f</text>
<path d="M310.80,474.08V564.20H470.70" fill="none" stroke="#868686" stroke-width="1"/>
<path d="M307.60,564.20H310.80" stroke="#868686" stroke-width="1"/>
<text x="303.00" y="567.49" font-size="9.2" text-anchor="end" fill="#111" stroke="#111" stroke-width="0.3" textLength="5.0" lengthAdjust="spacingAndGlyphs" >0</text>
<path d="M307.60,549.18H310.80" stroke="#868686" stroke-width="1"/>
<text x="303.00" y="552.47" font-size="9.2" text-anchor="end" fill="#111" stroke="#111" stroke-width="0.3" textLength="9.9" lengthAdjust="spacingAndGlyphs" >20</text>
<path d="M307.60,534.16H310.80" stroke="#868686" stroke-width="1"/>
<text x="303.00" y="537.45" font-size="9.2" text-anchor="end" fill="#111" stroke="#111" stroke-width="0.3" textLength="9.9" lengthAdjust="spacingAndGlyphs" >40</text>
<path d="M307.60,519.14H310.80" stroke="#868686" stroke-width="1"/>
<text x="303.00" y="522.43" font-size="9.2" text-anchor="end" fill="#111" stroke="#111" stroke-width="0.3" textLength="9.9" lengthAdjust="spacingAndGlyphs" >60</text>
<path d="M307.60,504.12H310.80" stroke="#868686" stroke-width="1"/>
<text x="303.00" y="507.41" font-size="9.2" text-anchor="end" fill="#111" stroke="#111" stroke-width="0.3" textLength="9.9" lengthAdjust="spacingAndGlyphs" >80</text>
<path d="M307.60,489.10H310.80" stroke="#868686" stroke-width="1"/>
<text x="303.00" y="492.39" font-size="9.2" text-anchor="end" fill="#111" stroke="#111" stroke-width="0.3" textLength="14.9" lengthAdjust="spacingAndGlyphs" >100</text>
<path d="M307.60,474.08H310.80" stroke="#868686" stroke-width="1"/>
<text x="303.00" y="477.37" font-size="9.2" text-anchor="end" fill="#111" stroke="#111" stroke-width="0.3" textLength="14.9" lengthAdjust="spacingAndGlyphs" >120</text>
<rect x="329.10" y="507.12" width="22.70" height="57.08" fill="#000"/>
<path d="M340.45,507.12V492.10M337.85,492.10H343.05" stroke="#111" stroke-width="1" fill="none"/>
<rect x="352.30" y="544.42" width="21.70" height="19.78" fill="#fff" stroke="#111" stroke-width="1"/>
<path d="M363.15,543.92V537.16M360.55,537.16H365.75" stroke="#111" stroke-width="1" fill="none"/>
<rect x="408.50" y="488.95" width="22.70" height="75.25" fill="#000"/>
<rect x="431.70" y="504.24" width="21.70" height="59.96" fill="#fff" stroke="#111" stroke-width="1"/>
<path d="M442.55,503.74V484.59M439.95,484.59H445.15" stroke="#111" stroke-width="1" fill="none"/>
<text x="351.80" y="579.41" font-size="8.4" text-anchor="middle" fill="#111" stroke="#111" stroke-width="0.3" textLength="15.8" lengthAdjust="spacingAndGlyphs" >0.72</text>
<text x="431.20" y="579.41" font-size="8.4" text-anchor="middle" fill="#111" stroke="#111" stroke-width="0.3" textLength="11.3" lengthAdjust="spacingAndGlyphs" >7.2</text>
<text transform="translate(281.99,518.00) rotate(-90)" font-size="8.9" text-anchor="middle" fill="#111" stroke="#111" stroke-width="0.4" textLength="105.0" lengthAdjust="spacingAndGlyphs">Percent Maximal Activity</text>
<text x="393.30" y="591.30" font-size="9.2" text-anchor="middle" fill="#111" stroke="#111" stroke-width="0.3" textLength="64.0" lengthAdjust="spacingAndGlyphs" >Thrombin (nM)</text>
<text x="358.00" y="483.48" font-size="14" text-anchor="middle" fill="#000" stroke="#000" stroke-width="0.3" letter-spacing="1.1">**</text>
<path d="M318.10,636.16V730.00H471.40" fill="none" stroke="#868686" stroke-width="1"/>
<path d="M314.90,730.00H318.10" stroke="#868686" stroke-width="1"/>
<text x="310.80" y="733.29" font-size="9.2" text-anchor="end" fill="#111" stroke="#111" stroke-width="0.3" textLength="5.0" lengthAdjust="spacingAndGlyphs" >0</text>
<path d="M314.90,714.36H318.10" stroke="#868686" stroke-width="1"/>
<text x="310.80" y="717.65" font-size="9.2" text-anchor="end" fill="#111" stroke="#111" stroke-width="0.3" textLength="9.9" lengthAdjust="spacingAndGlyphs" >20</text>
<path d="M314.90,698.72H318.10" stroke="#868686" stroke-width="1"/>
<text x="310.80" y="702.01" font-size="9.2" text-anchor="end" fill="#111" stroke="#111" stroke-width="0.3" textLength="9.9" lengthAdjust="spacingAndGlyphs" >40</text>
<path d="M314.90,683.08H318.10" stroke="#868686" stroke-width="1"/>
<text x="310.80" y="686.37" font-size="9.2" text-anchor="end" fill="#111" stroke="#111" stroke-width="0.3" textLength="9.9" lengthAdjust="spacingAndGlyphs" >60</text>
<path d="M314.90,667.44H318.10" stroke="#868686" stroke-width="1"/>
<text x="310.80" y="670.73" font-size="9.2" text-anchor="end" fill="#111" stroke="#111" stroke-width="0.3" textLength="9.9" lengthAdjust="spacingAndGlyphs" >80</text>
<path d="M314.90,651.80H318.10" stroke="#868686" stroke-width="1"/>
<text x="310.80" y="655.09" font-size="9.2" text-anchor="end" fill="#111" stroke="#111" stroke-width="0.3" textLength="14.9" lengthAdjust="spacingAndGlyphs" >100</text>
<path d="M314.90,636.16H318.10" stroke="#868686" stroke-width="1"/>
<text x="310.80" y="639.45" font-size="9.2" text-anchor="end" fill="#111" stroke="#111" stroke-width="0.3" textLength="14.9" lengthAdjust="spacingAndGlyphs" >120</text>
<rect x="327.70" y="722.73" width="11.20" height="7.27" fill="#000"/>
<path d="M333.30,722.73V718.90M330.70,718.90H335.90" stroke="#111" stroke-width="1" fill="none"/>
<rect x="339.40" y="723.77" width="10.20" height="6.23" fill="#fff" stroke="#111" stroke-width="1"/>
<path d="M344.50,723.27V721.95M341.90,721.95H347.10" stroke="#111" stroke-width="1" fill="none"/>
<rect x="365.80" y="702.08" width="11.20" height="27.92" fill="#000"/>
<path d="M371.40,702.08V698.17M368.80,698.17H374.00" stroke="#111" stroke-width="1" fill="none"/>
<rect x="377.50" y="707.20" width="10.20" height="22.80" fill="#fff" stroke="#111" stroke-width="1"/>
<path d="M382.60,706.70V704.66M380.00,704.66H385.20" stroke="#111" stroke-width="1" fill="none"/>
<rect x="404.20" y="651.64" width="11.20" height="78.36" fill="#000"/>
<rect x="415.90" y="683.19" width="10.20" height="46.81" fill="#fff" stroke="#111" stroke-width="1"/>
<path d="M421.00,682.69V679.33M418.40,679.33H423.60" stroke="#111" stroke-width="1" fill="none"/>
<rect x="442.10" y="656.02" width="11.20" height="73.98" fill="#000"/>
<path d="M447.70,656.02V648.52M445.10,648.52H450.30" stroke="#111" stroke-width="1" fill="none"/>
<rect x="453.80" y="683.66" width="10.20" height="46.34" fill="#fff" stroke="#111" stroke-width="1"/>
<path d="M458.90,683.16V674.17M456.30,674.17H461.50" stroke="#111" stroke-width="1" fill="none"/>
<text x="338.90" y="746.01" font-size="8.4" text-anchor="middle" fill="#111" stroke="#111" stroke-width="0.3" textLength="11.3" lengthAdjust="spacingAndGlyphs" >0.1</text>
<text x="377.00" y="746.01" font-size="8.4" text-anchor="middle" fill="#111" stroke="#111" stroke-width="0.3" textLength="11.3" lengthAdjust="spacingAndGlyphs" >0.5</text>
<text x="415.40" y="746.01" font-size="8.4" text-anchor="middle" fill="#111" stroke="#111" stroke-width="0.3" textLength="4.5" lengthAdjust="spacingAndGlyphs" >1</text>
<text x="453.30" y="746.01" font-size="8.4" text-anchor="middle" fill="#111" stroke="#111" stroke-width="0.3" textLength="4.5" lengthAdjust="spacingAndGlyphs" >5</text>
<text transform="translate(291.89,678.00) rotate(-90)" font-size="8.9" text-anchor="middle" fill="#111" stroke="#111" stroke-width="0.4" textLength="106.0" lengthAdjust="spacingAndGlyphs">Percent Maximal Release</text>
<text x="394.30" y="634.30" font-size="9.6" text-anchor="middle" fill="#111" stroke="#111" stroke-width="0.45" textLength="15.0" lengthAdjust="spacingAndGlyphs" >PDI</text>
<text x="398.10" y="756.80" font-size="9.2" text-anchor="middle" fill="#111" stroke="#111" stroke-width="0.3" textLength="71.0" lengthAdjust="spacingAndGlyphs" >Collagen (µg/ml)</text>
<text x="417.20" y="644.98" font-size="14" text-anchor="middle" fill="#000" stroke="#000" stroke-width="0.3" letter-spacing="1.1">**</text>
<text x="459.50" y="646.08" font-size="14" text-anchor="middle" fill="#000" stroke="#000" stroke-width="0.3" letter-spacing="1.1">*</text>
<text x="75.30" y="735.30" font-size="4.2" text-anchor="end" fill="#222" stroke="#222" stroke-width="0.3" >0</text>
<text x="75.30" y="715.17" font-size="4.2" text-anchor="end" fill="#222" stroke="#222" stroke-width="0.3" >50</text>
<text x="75.30" y="695.03" font-size="4.2" text-anchor="end" fill="#222" stroke="#222" stroke-width="0.3" >100</text>
<text x="75.30" y="674.90" font-size="4.2" text-anchor="end" fill="#222" stroke="#222" stroke-width="0.3" >150</text>
<text x="75.30" y="654.76" font-size="4.2" text-anchor="end" fill="#222" stroke="#222" stroke-width="0.3" >200</text>
<text x="75.30" y="634.63" font-size="4.2" text-anchor="end" fill="#222" stroke="#222" stroke-width="0.3" >250</text>
<text transform="translate(52.38,683.00) rotate(-90)" font-size="8.6" text-anchor="middle" fill="#111" stroke="#111" stroke-width="0.4" textLength="51.0" lengthAdjust="spacingAndGlyphs">Luminescence</text>
<path d="M92,632.9H165.4M171.2,632.9H244.6" stroke="#111" stroke-width="1.2"/>
<text x="132.70" y="631.20" font-size="9.3" text-anchor="middle" fill="#111" stroke="#111" stroke-width="0.3" textLength="13.5" lengthAdjust="spacingAndGlyphs" >WT</text>
<text x="207.00" y="631.20" font-size="9.3" text-anchor="middle" fill="#111" stroke="#111" stroke-width="0.3" textLength="19.5" lengthAdjust="spacingAndGlyphs" >HPS6</text>
<rect x="83.00" y="732.39" width="2.00" height="1.21" fill="#8a8a8a"/>
<path d="M84.00,732.39v-0.81" stroke="#555" stroke-width="0.5"/>
<rect x="85.30" y="731.99" width="2.00" height="1.61" fill="#8a8a8a"/>
<path d="M86.30,731.99v-0.81" stroke="#555" stroke-width="0.5"/>
<rect x="87.60" y="731.99" width="2.00" height="1.61" fill="#8a8a8a"/>
<path d="M88.60,731.99v-0.81" stroke="#555" stroke-width="0.5"/>
<rect x="89.90" y="731.59" width="2.00" height="2.01" fill="#8a8a8a"/>
<path d="M90.90,731.59v-0.81" stroke="#555" stroke-width="0.5"/>
<rect x="92.20" y="731.99" width="2.00" height="1.61" fill="#8a8a8a"/>
<path d="M93.20,731.99v-0.81" stroke="#555" stroke-width="0.5"/>
<rect x="94.50" y="731.59" width="2.00" height="2.01" fill="#8a8a8a"/>
<path d="M95.50,731.59v-0.81" stroke="#555" stroke-width="0.5"/>
<rect x="96.80" y="729.98" width="2.00" height="3.62" fill="#bbb"/>
<path d="M97.80,729.98v-0.81" stroke="#555" stroke-width="0.5"/>
<rect x="99.10" y="731.59" width="2.00" height="2.01" fill="#bbb"/>
<path d="M100.10,731.59v-0.81" stroke="#555" stroke-width="0.5"/>
<rect x="101.40" y="731.99" width="2.00" height="1.61" fill="#bbb"/>
<path d="M102.40,731.99v-0.81" stroke="#555" stroke-width="0.5"/>
<rect x="103.70" y="731.99" width="2.00" height="1.61" fill="#bbb"/>
<path d="M104.70,731.99v-0.81" stroke="#555" stroke-width="0.5"/>
<rect x="111.50" y="661.11" width="2.27" height="72.49" fill="#3a3a3a"/>
<path d="M112.64,661.11v-3.62" stroke="#555" stroke-width="0.5"/>
<rect x="113.77" y="660.31" width="2.27" height="73.29" fill="#2f2f2f"/>
<path d="M114.91,660.31v-3.62" stroke="#555" stroke-width="0.5"/>
<rect x="116.04" y="648.63" width="2.27" height="84.97" fill="#2a2a2a"/>
<path d="M117.18,648.63v-7.25" stroke="#555" stroke-width="0.5"/>
<rect x="118.31" y="654.67" width="2.27" height="78.93" fill="#333"/>
<path d="M119.45,654.67v-3.62" stroke="#555" stroke-width="0.5"/>
<rect x="120.58" y="661.92" width="2.27" height="71.68" fill="#3d3d3d"/>
<path d="M121.72,661.92v-3.62" stroke="#555" stroke-width="0.5"/>
<rect x="122.85" y="662.72" width="2.27" height="70.88" fill="#484848"/>
<path d="M123.98,662.72v-3.62" stroke="#555" stroke-width="0.5"/>
<rect x="125.12" y="673.20" width="2.00" height="60.41" fill="#a8a8a8"/>
<path d="M126.12,673.20v-3.62" stroke="#555" stroke-width="0.5"/>
<rect x="127.39" y="673.20" width="2.00" height="60.41" fill="#cfcfcf" stroke="#999" stroke-width="0.4"/>
<path d="M128.39,673.20v-3.62" stroke="#555" stroke-width="0.5"/>
<rect x="129.66" y="676.42" width="2.00" height="57.18" fill="#f4f4f4" stroke="#999" stroke-width="0.4"/>
<path d="M130.66,676.42v-3.62" stroke="#555" stroke-width="0.5"/>
<rect x="131.93" y="677.22" width="2.00" height="56.38" fill="#fafafa" stroke="#999" stroke-width="0.4"/>
<path d="M132.93,677.22v-3.62" stroke="#555" stroke-width="0.5"/>
<rect x="134.20" y="682.05" width="2.00" height="51.55" fill="#fff" stroke="#999" stroke-width="0.4"/>
<path d="M135.20,682.05v-3.62" stroke="#555" stroke-width="0.5"/>
<rect x="143.50" y="731.99" width="1.90" height="1.61" fill="#444"/>
<path d="M144.45,731.99v-1.21" stroke="#555" stroke-width="0.5"/>
<rect x="145.60" y="730.38" width="1.90" height="3.22" fill="#3a3a3a"/>
<path d="M146.55,730.38v-1.21" stroke="#555" stroke-width="0.5"/>
<rect x="147.70" y="727.96" width="1.90" height="5.64" fill="#444"/>
<path d="M148.65,727.96v-1.21" stroke="#555" stroke-width="0.5"/>
<rect x="149.80" y="725.55" width="1.90" height="8.05" fill="#555"/>
<path d="M150.75,725.55v-1.21" stroke="#555" stroke-width="0.5"/>
<rect x="151.90" y="723.53" width="1.90" height="10.07" fill="#666"/>
<path d="M152.85,723.53v-1.21" stroke="#555" stroke-width="0.5"/>
<rect x="154.00" y="721.52" width="1.90" height="12.08" fill="#888"/>
<path d="M154.95,721.52v-1.21" stroke="#555" stroke-width="0.5"/>
<rect x="156.10" y="719.91" width="1.90" height="13.69" fill="#aaa"/>
<path d="M157.05,719.91v-1.21" stroke="#555" stroke-width="0.5"/>
<rect x="158.20" y="718.30" width="1.90" height="15.30" fill="#ddd" stroke="#999" stroke-width="0.4"/>
<path d="M159.15,718.30v-1.21" stroke="#555" stroke-width="0.5"/>
<rect x="160.30" y="718.30" width="1.90" height="15.30" fill="#f4f4f4" stroke="#999" stroke-width="0.4"/>
<path d="M161.25,718.30v-1.21" stroke="#555" stroke-width="0.5"/>
<rect x="162.40" y="718.70" width="1.90" height="14.90" fill="#fff" stroke="#999" stroke-width="0.4"/>
<path d="M163.35,718.70v-1.21" stroke="#555" stroke-width="0.5"/>
<rect x="170.00" y="732.79" width="2.00" height="0.81" fill="#999"/>
<rect x="172.30" y="732.79" width="2.00" height="0.81" fill="#999"/>
<rect x="174.60" y="732.79" width="2.00" height="0.81" fill="#999"/>
<rect x="176.90" y="732.79" width="2.00" height="0.81" fill="#999"/>
<rect x="179.20" y="732.79" width="2.00" height="0.81" fill="#999"/>
<rect x="181.50" y="732.79" width="2.00" height="0.81" fill="#999"/>
<rect x="183.80" y="732.79" width="2.00" height="0.81" fill="#999"/>
<rect x="186.10" y="732.79" width="2.00" height="0.81" fill="#999"/>
<rect x="188.40" y="732.79" width="2.00" height="0.81" fill="#999"/>
<rect x="190.70" y="732.79" width="2.00" height="0.81" fill="#999"/>
<rect x="198.00" y="729.57" width="2.00" height="4.03" fill="#444"/>
<rect x="200.30" y="729.17" width="2.00" height="4.43" fill="#444"/>
<rect x="202.60" y="729.98" width="2.00" height="3.62" fill="#444"/>
<rect x="204.90" y="730.78" width="2.00" height="2.82" fill="#444"/>
<rect x="207.20" y="731.59" width="2.00" height="2.01" fill="#444"/>
<rect x="209.50" y="732.39" width="2.00" height="1.21" fill="#aaa"/>
<rect x="211.80" y="732.79" width="2.00" height="0.81" fill="#aaa"/>
<rect x="214.10" y="732.79" width="2.00" height="0.81" fill="#aaa"/>
<rect x="216.40" y="732.79" width="2.00" height="0.81" fill="#aaa"/>
<rect x="218.70" y="732.79" width="2.00" height="0.81" fill="#aaa"/>
<rect x="227.50" y="732.59" width="2.00" height="1.01" fill="#999"/>
<rect x="229.80" y="732.59" width="2.00" height="1.01" fill="#999"/>
<rect x="232.10" y="732.59" width="2.00" height="1.01" fill="#999"/>
<rect x="234.40" y="732.59" width="2.00" height="1.01" fill="#999"/>
<rect x="236.70" y="732.59" width="2.00" height="1.01" fill="#999"/>
<rect x="239.00" y="732.59" width="2.00" height="1.01" fill="#999"/>
<rect x="241.30" y="732.59" width="2.00" height="1.01" fill="#999"/>
<rect x="243.60" y="732.59" width="2.00" height="1.01" fill="#999"/>
<rect x="245.90" y="732.59" width="2.00" height="1.01" fill="#999"/>
<rect x="248.20" y="732.59" width="2.00" height="1.01" fill="#999"/>
<text x="95.60" y="747.20" font-size="9.6" text-anchor="middle" fill="#111" stroke="#111" stroke-width="0.5" textLength="28.3" lengthAdjust="spacingAndGlyphs" >Control</text>
<text x="122.40" y="747.20" font-size="9.6" text-anchor="middle" fill="#111" stroke="#111" stroke-width="0.5" textLength="9.3" lengthAdjust="spacingAndGlyphs" >SF</text>
<text x="154.30" y="747.20" font-size="9.6" text-anchor="middle" fill="#111" stroke="#111" stroke-width="0.5" textLength="11.8" lengthAdjust="spacingAndGlyphs" >Col</text>
<text x="183.50" y="747.20" font-size="9.6" text-anchor="middle" fill="#111" stroke="#111" stroke-width="0.5" textLength="27.3" lengthAdjust="spacingAndGlyphs" >Control</text>
<text x="207.80" y="747.20" font-size="9.6" text-anchor="middle" fill="#111" stroke="#111" stroke-width="0.5" textLength="9.3" lengthAdjust="spacingAndGlyphs" >SF</text>
<text x="237.00" y="747.20" font-size="9.6" text-anchor="middle" fill="#111" stroke="#111" stroke-width="0.5" textLength="11.8" lengthAdjust="spacingAndGlyphs" >Col</text>
</g>
</svg>
</body></html>
